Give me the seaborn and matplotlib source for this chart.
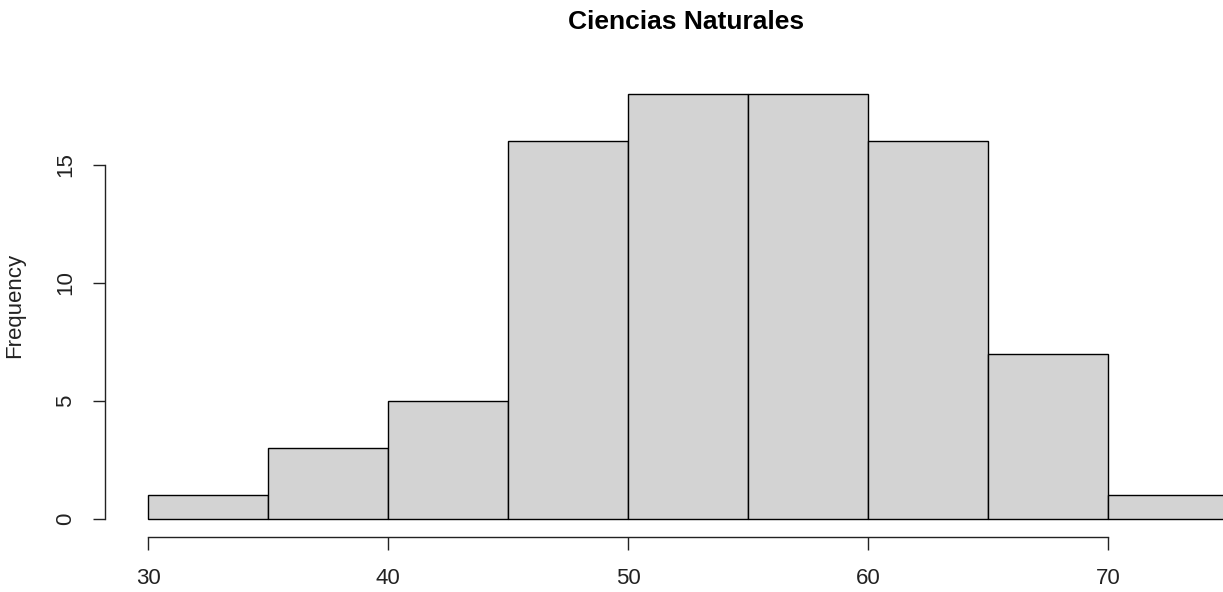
import numpy as np
import pandas as pd
import matplotlib
matplotlib.use("Agg")
import matplotlib.pyplot as plt
import seaborn as sns

# histogram bins
bin_edges = [30, 35, 40, 45, 50, 55, 60, 65, 70, 75]
counts = [1, 3, 5, 16, 18, 18, 16, 7, 1]
x_ticks = [30, 40, 50, 60, 70]
y_ticks = [0, 5, 10, 15]

mids = [(a + b) / 2 for a, b in zip(bin_edges[:-1], bin_edges[1:])]
df = pd.DataFrame({"score": mids, "n": counts})

sns.set_style("white")
plt.rcParams['font.family'] = ['Liberation Sans', 'DejaVu Sans']

fig = plt.figure(figsize=(12.23, 5.92), dpi=100)
ax = fig.add_axes([0, 32 / 592, 1, 520 / 592])

sns.histplot(data=df, x="score", weights="n", bins=bin_edges, ax=ax,
             color="#D3D3D3", edgecolor="black", linewidth=1, alpha=1)

# pixel mapping: 30 -> 148px, 24 px per unit; y 0 -> 519px, 23.6 px per unit
ax.set_xlim(30 - 148 / 24, 30 + 1075 / 24)
ax.set_ylim(-(560 - 519) / 23.6, (519 - 40) / 23.6)

for s in ["top", "right"]:
    ax.spines[s].set_visible(False)
ax.spines["bottom"].set_bounds(30, 70)
ax.spines["bottom"].set_position(("data", -18 / 23.6))
ax.spines["left"].set_bounds(0, 15)
ax.spines["left"].set_position(("data", 30 - 43 / 24))
for s in ["bottom", "left"]:
    ax.spines[s].set_color("#222222")
    ax.spines[s].set_linewidth(1)

ax.set_xticks(x_ticks)
ax.set_yticks(y_ticks)
ax.tick_params(axis="both", direction="out", length=9, width=1, color="#222222",
               labelsize=16, labelcolor="#222222", bottom=True, left=True)
ax.tick_params(axis="x", pad=13)
ax.tick_params(axis="y", pad=12)
for lab in ax.get_yticklabels():
    lab.set_rotation(90)
    lab.set_va("center")

ax.set_xlabel("")
ax.set_ylabel("")
fig.text(15 / 1223, 1 - 305 / 592, "Frequency", rotation=90, ha="center", va="center",
         fontsize=16, color="#222222")
fig.text(686 / 1223, 1 - 22 / 592, "Ciencias Naturales", ha="center", va="center",
         fontsize=19, fontweight="bold", color="black")

fig.savefig("out.png", dpi=100)
